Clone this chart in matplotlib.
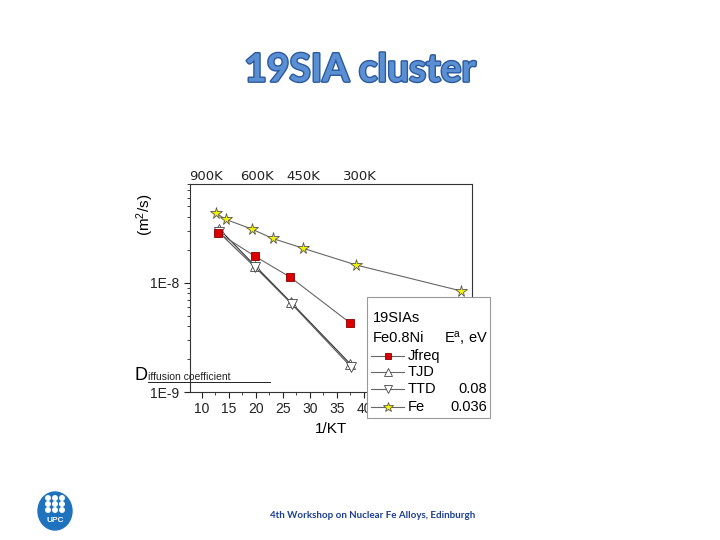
import matplotlib
matplotlib.use("Agg")
import matplotlib.pyplot as plt
import matplotlib.patheffects as pe
from matplotlib.lines import Line2D
from matplotlib.patches import Ellipse, Rectangle
from matplotlib.ticker import FixedLocator, FixedFormatter, MultipleLocator

# data
jfreq_x = [13.0, 19.8, 26.4, 37.4]
jfreq_y = [2.86e-8, 1.75e-8, 1.12e-8, 4.3e-9]
tjd_x = [13.2, 19.9, 26.5, 37.5]
tjd_y = [3.1e-8, 1.42e-8, 6.6e-9, 1.8e-9]
ttd_x = [13.1, 19.9, 26.6, 37.6]
ttd_y = [2.9e-8, 1.38e-8, 6.4e-9, 1.7e-9]
fe_x = [12.7, 14.4, 19.2, 23.1, 28.8, 38.6, 58.0]
fe_y = [4.3e-8, 3.8e-8, 3.1e-8, 2.54e-8, 2.06e-8, 1.45e-8, 8.4e-9]
series_names = ["Jfreq", "TJD", "TTD", "Fe"]
series_ea = ["", "", "0.08", "0.036"]
temp_labels = ["900K", "600K", "450K", "300K"]
temp_pos = [206, 257, 303, 360]  # pixel x of top labels
x_ticks = [10, 15, 20, 25, 30, 35, 40]  # the rest sit under the legend

W, H = 720, 540
fig = plt.figure(figsize=(7.2, 5.4), dpi=100)
fx = lambda px: px / W
fy = lambda py: 1 - py / H

plt.rcParams["font.family"] = ["Liberation Sans", "DejaVu Sans"]
plt.rcParams["mathtext.fontset"] = "custom"
plt.rcParams["mathtext.rm"] = "Liberation Sans"
plt.rcParams["mathtext.it"] = "Liberation Sans"

ax = fig.add_axes([fx(190), fy(392), (472 - 190) / W, (392 - 184) / H])
ax.set_yscale("log")

line_c = "#666666"
styles = [
    dict(marker="s", ms=6, mfc="#dd0000", mec="#880000", color=line_c),
    dict(marker="^", ms=7, mfc="white", mec="#444444", color="#333333"),
    dict(marker="v", ms=7, mfc="white", mec="#444444", color="#555555"),
    dict(marker="*", ms=8.5, mfc="#f2f200", mec="#555555", color=line_c),
]
for (xs, ys), st, z in zip([(jfreq_x, jfreq_y), (tjd_x, tjd_y), (ttd_x, ttd_y), (fe_x, fe_y)],
                           styles, [4, 3, 3, 4]):
    ax.plot(xs, ys, "-", lw=0.8, mew=0.6, zorder=z, **st)

ax.set_xlim(7.8, 60)
ax.set_ylim(1e-9, 8e-8)
ax.xaxis.set_major_locator(FixedLocator(x_ticks))
ax.xaxis.set_minor_locator(MultipleLocator(2.5))
ax.yaxis.set_major_locator(FixedLocator([1e-9, 1e-8]))
ax.yaxis.set_major_formatter(FixedFormatter(["1E-9", "1E-8"]))
ax.tick_params(which="both", direction="out", top=False, right=False,
               labelsize=10, colors="#222222")
ax.tick_params(which="major", length=4)
ax.tick_params(which="minor", length=2)
ax.set_xlabel("1/KT", fontsize=11, labelpad=4)
for s in ax.spines.values():
    s.set_linewidth(0.8)
    s.set_color("#333333")

# legend box, laid out by hand like the original
fig.add_artist(Rectangle((fx(367), fy(418)), 123 / W, 121 / H, facecolor="white",
                         edgecolor="#999999", lw=0.8, transform=fig.transFigure, zorder=5))
fig.text(fx(373), fy(318), "19SIAs", fontsize=10.5, va="center", zorder=6)
fig.text(fx(373), fy(338), "Fe0.8Ni", fontsize=10.5, va="center", zorder=6)
fig.text(fx(488), fy(338), "E$^a$, eV", fontsize=10.5, va="center", ha="right", zorder=6)
for name, ea, st, y in zip(series_names, series_ea, styles, [356, 372, 389, 407]):
    fig.add_artist(Line2D([fx(371), fx(404)], [fy(y), fy(y)], lw=0.8, color=line_c,
                          zorder=6))
    fig.add_artist(Line2D([fx(387.5)], [fy(y)], lw=0, marker=st["marker"],
                          ms=st["ms"] - 1.5, mfc=st["mfc"], mec=st["mec"], mew=0.6,
                          zorder=7))
    fig.text(fx(408), fy(y), name, fontsize=10.5, va="center", zorder=6)
    if ea:
        fig.text(fx(487), fy(y), ea, fontsize=10.5, ha="right", va="center", zorder=6)

# temperature labels on top
for lbl, px in zip(temp_labels, temp_pos):
    fig.text(fx(px), fy(177), lbl, fontsize=9.5, ha="center", va="center",
             family="DejaVu Sans", color="#222222")

# y-axis labels
fig.text(fx(145), fy(215), "(m$^2$/s)", rotation=90, fontsize=11,
         ha="center", va="center")
fig.text(fx(134), fy(376), "D", fontsize=13, ha="left", va="center")
fig.text(fx(148), fy(377), "iffusion coefficient", fontsize=7.5,
         ha="left", va="center", color="#222222")
fig.add_artist(Line2D([fx(148), fx(270)], [fy(382), fy(382)], color="#222222", lw=0.7))

# slide title and footer
fig.text(0.5, fy(70), "19SIA cluster", fontsize=28, fontweight="bold",
         family="Lato", color="#5b8fd4", ha="center", va="center",
         path_effects=[pe.withStroke(linewidth=2, foreground="#2a5a9c")])
fig.text(fx(373), fy(515), "4th Workshop on Nuclear Fe Alloys, Edinburgh",
         fontsize=7, fontweight="bold", family="Lato", color="#1c3f94",
         ha="center", va="center")

# UPC logo
logo_c = "#1f72bd"
fig.add_artist(Ellipse((fx(55), fy(511)), 34 / W, 38 / H, color=logo_c,
                       transform=fig.transFigure))
for r in range(3):
    for c in range(3):
        fig.add_artist(Ellipse((fx(48 + 7 * c), fy(498 + 6 * r)), 4.5 / W, 4.5 / H,
                               color="white", transform=fig.transFigure))
fig.text(fx(55), fy(520), "UPC", fontsize=6, fontweight="bold", color="white",
         ha="center", va="center")

fig.savefig("out.png", dpi=100)
